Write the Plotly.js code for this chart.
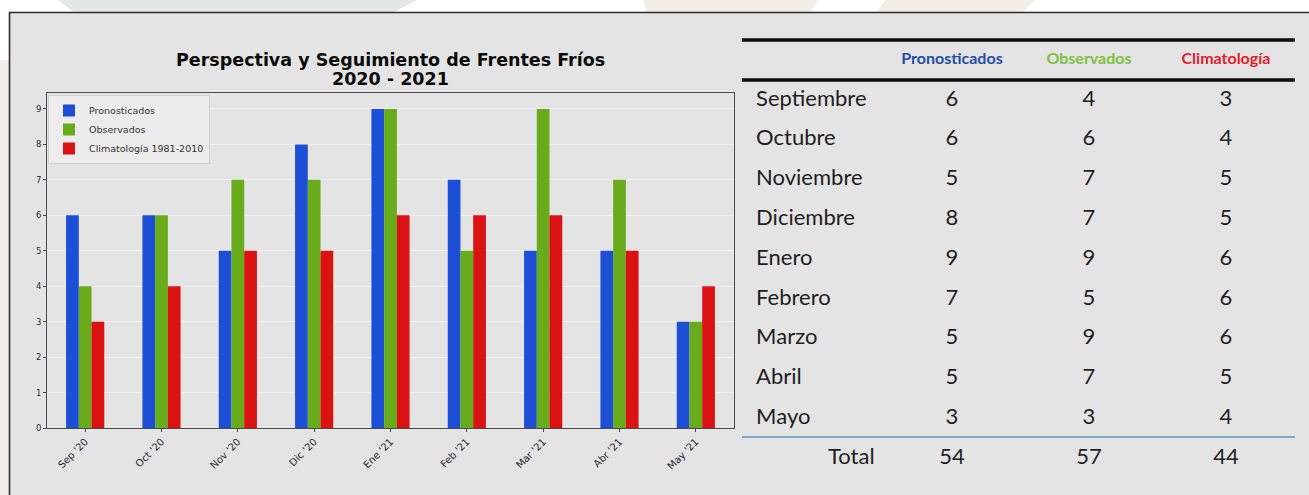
<!DOCTYPE html>
<html>
<head>
<meta charset="utf-8">
<script src="https://cdn.plot.ly/plotly-3.0.1.min.js"></script>
<style>html,body{margin:0;padding:0;background:#fff;}#chart{width:1309px;height:495px;}</style>
</head>
<body>
<div id="chart"></div>
<script>
// ---- data ----
const tickLabels = ["Sep '20","Oct '20","Nov '20","Dic '20","Ene '21","Feb '21","Mar '21","Abr '21","May '21"];
const monthNames = ["Septiembre","Octubre","Noviembre","Diciembre","Enero","Febrero","Marzo","Abril","Mayo"];
const pronosticados = [6,6,5,8,9,7,5,5,3];
const observados   = [4,6,7,7,9,5,9,7,3];
const climatologia = [3,4,5,5,6,6,6,5,4];
const seriesNames = ["Pronosticados","Observados","Climatología 1981-2010"];
const tableHeaders = ["Pronosticados","Observados","Climatología"];
const totalLabel = "Total";
const titleLines = ["Perspectiva y Seguimiento de Frentes Fríos", "2020 - 2021"];

// ---- styles ----
const W = 1309, H = 495;
const barColors = ["#1d4fd6","#68ab1b","#da1212"];
const headerColors = ["#1f4ea6","#7cc242","#e2202c"];
const tableFont = "Lato, 'Noto Sans', sans-serif";
const cellFont = {family: tableFont, size: 22, color: '#1e1e1e'};

const seriesVals = [pronosticados, observados, climatologia];
const traces = seriesVals.map((vals, i) => ({
  type: 'bar', x: tickLabels, y: vals, name: seriesNames[i],
  marker: {color: barColors[i], line: {width: 0}},
  xaxis: 'x', yaxis: 'y', hoverinfo: 'skip'
}));

// table via text traces on hidden axis (x2: column index, y2: row index)
const rows = monthNames.map((_, i) => i + 1);
const totalRow = monthNames.length + 1;
traces.push({
  type: 'scatter', mode: 'text', xaxis: 'x2', yaxis: 'y2', showlegend: false, hoverinfo: 'skip',
  x: monthNames.map(() => -0.43), y: rows, text: monthNames, textposition: 'middle right',
  textfont: cellFont, cliponaxis: false
});
seriesVals.forEach((vals, c) => {
  const tot = vals.reduce((a, b) => a + b, 0);
  traces.push({
    type: 'scatter', mode: 'text', xaxis: 'x2', yaxis: 'y2', showlegend: false, hoverinfo: 'skip',
    x: vals.map(() => c + 1).concat([c + 1]), y: rows.concat([totalRow]),
    text: vals.map(String).concat([String(tot)]), textposition: 'middle center',
    textfont: cellFont, cliponaxis: false
  });
});
traces.push({
  type: 'scatter', mode: 'text', xaxis: 'x2', yaxis: 'y2', showlegend: false, hoverinfo: 'skip',
  x: tableHeaders.map((_, c) => c + 1), y: tableHeaders.map(() => 0), text: tableHeaders,
  textposition: 'middle center', cliponaxis: false,
  textfont: {family: tableFont, size: 16, weight: 'bold', color: headerColors}
});
traces.push({
  type: 'scatter', mode: 'text', xaxis: 'x2', yaxis: 'y2', showlegend: false, hoverinfo: 'skip',
  x: [0.265], y: [totalRow], text: [totalLabel], textposition: 'middle center', cliponaxis: false,
  textfont: cellFont
});

const px = v => v / W, py = v => 1 - v / H;
const titleFont = {family: 'DejaVu Sans', size: 17.5, weight: 'bold', color: '#0a0a0a'};

const layout = {
  width: W, height: H,
  margin: {l: 0, r: 0, t: 0, b: 0},
  paper_bgcolor: '#ffffff',
  plot_bgcolor: 'rgba(0,0,0,0)',
  showlegend: true,
  barmode: 'group', bargap: 0.5, bargroupgap: 0,
  annotations: [
    {text: titleLines[0], xref: 'paper', yref: 'paper', x: px(390), y: py(60), xanchor: 'center', yanchor: 'middle',
     showarrow: false, font: titleFont},
    {text: titleLines[1], xref: 'paper', yref: 'paper', x: px(390), y: py(79), xanchor: 'center', yanchor: 'middle',
     showarrow: false, font: titleFont}
  ],
  xaxis: {
    domain: [px(47), px(734)], range: [-0.5, 8.5], type: 'category',
    tickangle: -45, ticks: 'outside', ticklen: 3, tickcolor: '#444',
    tickfont: {family: 'DejaVu Sans', size: 10, color: '#2a2a2a'},
    showline: true, linecolor: '#4a4a4a', linewidth: 1, mirror: true,
    showgrid: false, zeroline: false, fixedrange: true
  },
  yaxis: {
    domain: [py(428), py(93)], range: [0, 9.45],
    tickvals: [0,1,2,3,4,5,6,7,8,9], ticks: 'outside', ticklen: 3, tickcolor: '#444',
    tickfont: {family: 'DejaVu Sans', size: 8.5, color: '#2a2a2a'},
    showline: true, linecolor: '#4a4a4a', linewidth: 1, mirror: true,
    showgrid: true, gridcolor: 'rgba(255,255,255,0.45)', gridwidth: 1,
    zeroline: false, fixedrange: true
  },
  xaxis2: {
    domain: [px(742), px(1295)], range: [-0.533, 3.504], anchor: 'y2',
    visible: false, fixedrange: true
  },
  yaxis2: {
    domain: [0, 1], range: [10.925, -1.513], anchor: 'x2',
    visible: false, fixedrange: true
  },
  legend: {
    x: px(48), y: py(95), xanchor: 'left', yanchor: 'top', xref: 'paper', yref: 'paper',
    bgcolor: 'rgba(236,236,236,0.9)', bordercolor: '#cfcfcf', borderwidth: 1,
    font: {family: 'DejaVu Sans', size: 9.5, color: '#333'},
    itemwidth: 30, tracegroupgap: 0
  },
  shapes: [
    // watermark hints outside the panel
    {type: 'path', xref: 'paper', yref: 'paper', layer: 'below', line: {width: 0}, fillcolor: '#e3e7e5',
     path: `M ${px(58)} 1 L ${px(417)} 1 L ${px(392)} ${py(13)} L ${px(75)} ${py(13)} Z`},
    {type: 'path', xref: 'paper', yref: 'paper', layer: 'below', line: {width: 0}, fillcolor: '#f3eee8',
     path: `M ${px(643)} 1 L ${px(818)} 1 L ${px(810)} ${py(13)} L ${px(647)} ${py(13)} Z`},
    {type: 'path', xref: 'paper', yref: 'paper', layer: 'below', line: {width: 0}, fillcolor: '#f3eee8',
     path: `M ${px(885)} 1 L ${px(1035)} 1 L ${px(1022)} ${py(13)} L ${px(876)} ${py(13)} Z`},
    {type: 'rect', xref: 'paper', yref: 'paper', layer: 'below', line: {width: 0}, fillcolor: '#f4efea',
     x0: 0, x1: px(9), y0: 0, y1: py(60)},
    // panel
    {type: 'rect', xref: 'paper', yref: 'paper', layer: 'below',
     x0: px(9.5), x1: 1.02, y0: -0.02, y1: py(12.5),
     fillcolor: '#e4e4e4', line: {color: '#2e2e2e', width: 1.6}},
    // table rules
    {type: 'line', xref: 'x2 domain', yref: 'y2', x0: 0, x1: 1, y0: -0.51, y1: -0.51,
     line: {color: '#0c0c0c', width: 3.5}},
    {type: 'line', xref: 'x2 domain', yref: 'y2', x0: 0, x1: 1, y0: 0.5, y1: 0.5,
     line: {color: '#0c0c0c', width: 3.5}},
    {type: 'line', xref: 'x2 domain', yref: 'y2', x0: 0, x1: 1, y0: 9.47, y1: 9.47,
     line: {color: '#7ea7cc', width: 2}}
  ]
};

Plotly.newPlot('chart', traces, layout, {displayModeBar: false, staticPlot: true});
</script>
</body>
</html>
